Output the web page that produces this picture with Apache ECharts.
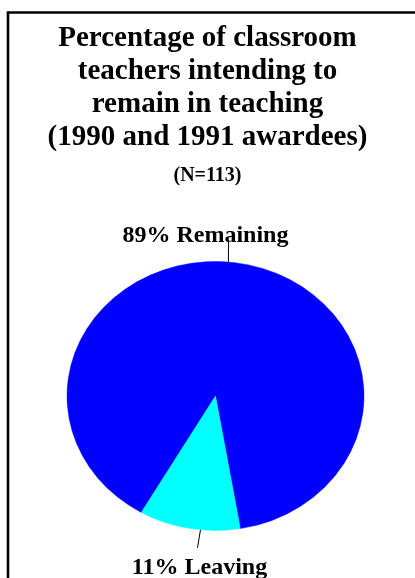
<!DOCTYPE html>
<html>
<head>
<meta charset="utf-8">
<script src="https://cdn.jsdelivr.net/npm/echarts@6/dist/echarts.min.js"></script>
<style>
html,body{margin:0;padding:0;background:#fff;}
#chart{width:415px;height:578px;}
</style>
</head>
<body>
<div id="chart"></div>
<script>
// ---- data ----
const titleLines = ['Percentage of classroom', 'teachers intending to', 'remain in teaching', '(1990 and 1991 awardees)'];
const subtitle = '(N=113)';
const categories = ['Remaining', 'Leaving'];
const percents = [89, 11];
const sliceColors = ['#0000FF', '#00FFFF'];

// ---- style / layout ----
const FONT = "'Liberation Serif', 'Times New Roman', serif";
const CX = 215.5, CY = 396, RX = 148.5, RY = 134.5;
const START_DEG = 120; // canvas angle (clockwise on screen) where first slice starts
// leader anchors per slice: angle on ellipse (deg, canvas), line end, label position
const leaders = [
  { angle: 275, endDy: -20, endDx: 0, labelDx: -23, labelBaseline: -1 },
  { angle: 95.8, endDy: 18, endDx: -3, labelDx: 2, labelBaseline: 25 }
];

const total = percents.reduce((a, b) => a + b, 0);

const chart = echarts.init(document.getElementById('chart'), null, { renderer: 'canvas' });

const option = {
  backgroundColor: '#fff',
  animation: false,
  title: [
    {
      text: titleLines.join('\n'),
      left: 'center',
      top: 22,
      padding: [0, 0, 0, 9],
      textStyle: { fontFamily: FONT, fontWeight: 'bold', fontSize: 29, lineHeight: 33, color: '#000' }
    },
    {
      text: subtitle,
      left: 'center',
      top: 166,
      padding: [0, 0, 0, 4],
      textStyle: { fontFamily: FONT, fontWeight: 'bold', fontSize: 20, lineHeight: 20, color: '#000' }
    }
  ],
  graphic: [
    {
      type: 'polyline',
      shape: { points: [[8, 578], [8, 12.5], [415, 12.5]] },
      style: { stroke: '#000', lineWidth: 2.6, fill: null }
    }
  ],
  series: [
    {
      type: 'custom',
      coordinateSystem: 'none',
      data: percents.map((v, i) => ({ name: categories[i], value: v })),
      renderItem: function (params, api) {
        const i = params.dataIndex;
        let acc = 0;
        for (let j = 0; j < i; j++) acc += percents[j];
        const start = (START_DEG * Math.PI / 180) + acc / total * Math.PI * 2;
        const end = start + percents[i] / total * Math.PI * 2;
        const L = leaders[i];
        const a = L.angle * Math.PI / 180;
        const ax = CX + RX * Math.cos(a);
        const ay = CY + RY * Math.sin(a);
        const ex = ax + L.endDx, ey = ay + L.endDy;
        const fs = 24;
        const baseY = ey + L.labelBaseline;
        return {
          type: 'group',
          children: [
            {
              type: 'group',
              x: CX, y: CY,
              scaleY: RY / RX,
              children: [{
                type: 'sector',
                shape: { cx: 0, cy: 0, r0: 0, r: RX, startAngle: start, endAngle: end, clockwise: true },
                style: { fill: sliceColors[i], stroke: sliceColors[i], lineWidth: 0.5 }
              }]
            },
            {
              type: 'line',
              shape: { x1: ax, y1: ay, x2: ex, y2: ey },
              style: { stroke: '#000', lineWidth: 1 }
            },
            {
              type: 'text',
              x: ex + L.labelDx,
              y: baseY - fs * 0.33 + 2.5,
              style: {
                text: percents[i] + '% ' + categories[i],
                fontFamily: FONT, fontWeight: 'bold', fontSize: fs,
                fill: '#000', align: 'center', verticalAlign: 'middle'
              }
            }
          ]
        };
      }
    }
  ]
};
chart.setOption(option);
</script>
</body>
</html>
